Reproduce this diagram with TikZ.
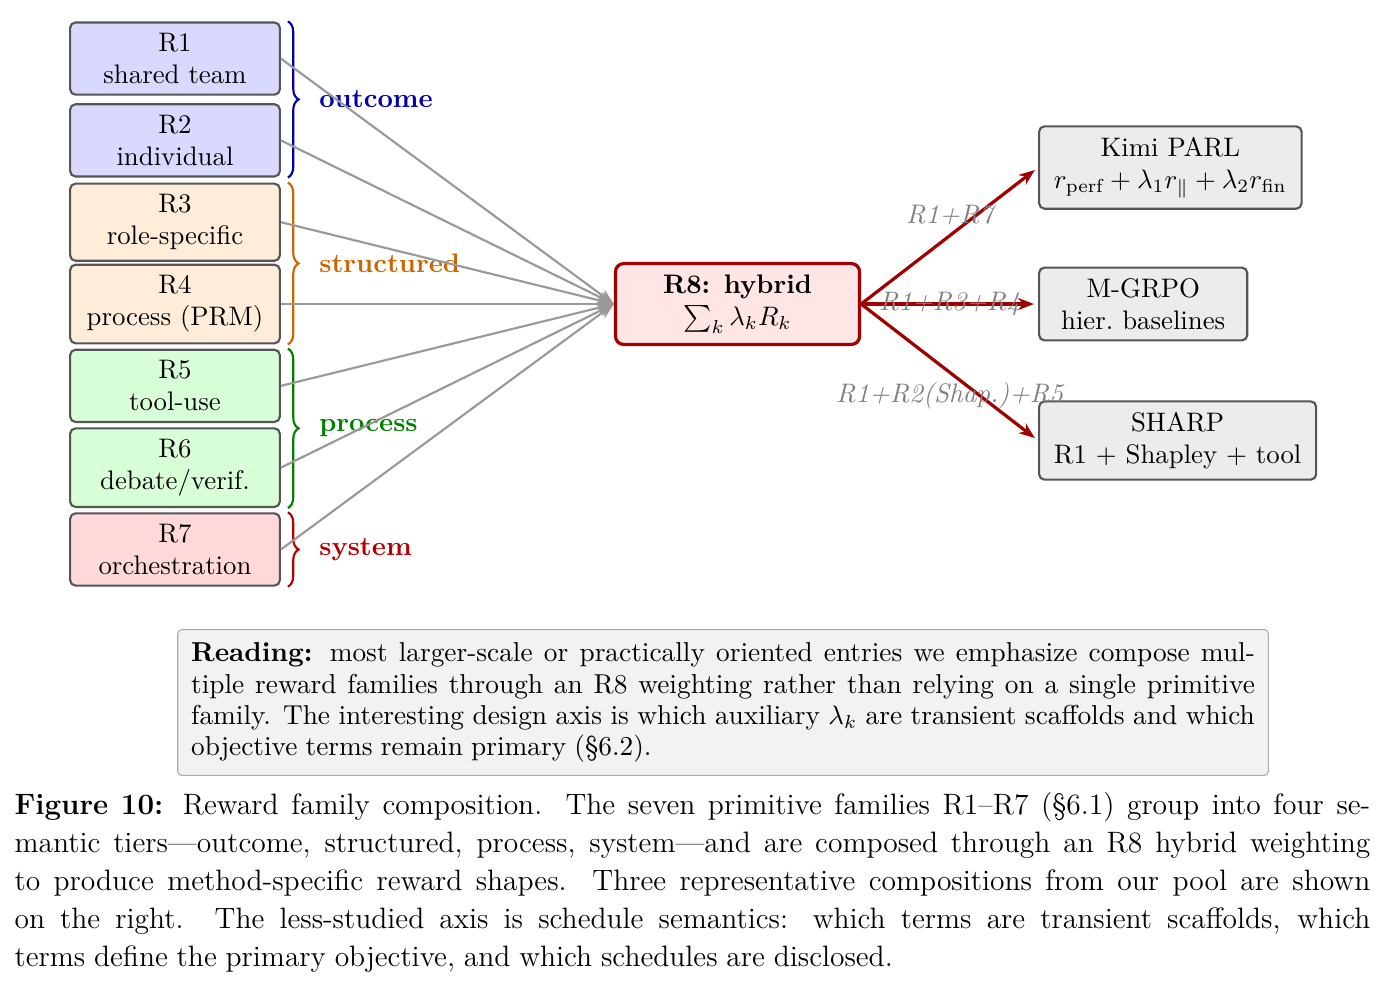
\documentclass[tikz,border=0pt]{standalone}
\usepackage{amsmath,amssymb}
\usepackage{tikz}
\usetikzlibrary{arrows.meta,positioning,calc,decorations.pathreplacing}
\usepackage{xcolor}
\definecolor{outblue}{HTML}{0000AA}
\definecolor{strorange}{HTML}{CC6600}
\definecolor{procgreen}{HTML}{008000}
\definecolor{sysred}{HTML}{B40000}
\definecolor{hybridred}{HTML}{A00000}
\definecolor{boxgray}{HTML}{555555}
\newcommand{\tightsp}{\spaceskip=.3em plus .2em minus .12em\relax}

\begin{document}
\begin{tikzpicture}[
    fam/.style={draw=boxgray, thick, rounded corners=2pt, minimum width=2.75cm,
                inner ysep=4pt, align=center, fill=#1},
    hub/.style={draw=hybridred, very thick, rounded corners=3pt, fill=red!10,
                minimum width=3.2cm, minimum height=1.06cm, align=center},
    method/.style={draw=boxgray, thick, rounded corners=2pt, fill=gray!15,
                   inner xsep=5.5pt, inner ysep=4pt, align=center, anchor=west},
    tier/.style={decorate, decoration={brace, amplitude=4pt}, thick, #1},
    tierlbl/.style={font=\bfseries, text=#1, right=8pt},
    feed/.style={-{Stealth[length=6pt]}, thick, gray!80},
    comp/.style={-{Stealth[length=6pt]}, very thick, hybridred, shorten >=1.5pt},
    edgelbl/.style={font=\itshape, text=gray},
    para/.style 2 args={align=justify, font=\fontsize{#1}{#2}\selectfont}
  ]
    \useasboundingbox (0,0) rectangle (18.15,12.944);

    % --- Left: primitive families ---
    \foreach \i/\txt/\col in {1/shared team/blue!15, 2/individual/blue!15,
                              3/role-specific/orange!15, 4/process (PRM)/orange!15,
                              5/tool-use/green!15, 6/debate\slash verif./green!15,
                              7/orchestration/red!15} {
      \node[fam=\col] (r\i) at (2.295, {12.176-(\i-1)*1.073}) {R\i\\\txt};
    }

    % --- Braces for the four tiers ---
    \draw[tier=outblue] ([xshift=2.6pt]r1.north east) -- ([xshift=2.6pt]r2.south east)
      node[midway, tierlbl=outblue] {outcome};
    \draw[tier=strorange] ([xshift=2.6pt]r3.north east) -- ([xshift=2.6pt]r4.south east)
      node[midway, tierlbl=strorange] {structured};
    \draw[tier=procgreen] ([xshift=2.6pt]r5.north east) -- ([xshift=2.6pt]r6.south east)
      node[midway, tierlbl=procgreen] {process};
    \draw[tier=sysred] ([xshift=2.6pt]r7.north east) -- ([xshift=2.6pt]r7.south east)
      node[midway, tierlbl=sysred] {system};

    % --- Middle: R8 hybrid ---
    \node[hub] (r8) at (9.672, 8.957) {\textbf{R8: hybrid}\\$\sum_k \lambda_k R_k$};
    \foreach \i in {1,...,7} {
      \draw[feed] (r\i.east) -- (r8.west);
    }

    % --- Right: compositions ---
    \node[method] (kimi) at (13.613, 10.747)
      {Kimi PARL\\$r_{\text{perf}} + \lambda_1 r_{\parallel} + \lambda_2 r_{\text{fin}}$};
    \node[method, minimum width=2.73cm] (mgrpo) at (13.613, 8.957) {M-GRPO\\hier.\ baselines};
    \node[method] (sharp) at (13.613, 7.167) {SHARP\\R1 + Shapley + tool};

    \draw[comp] (r8.east) -- node[midway, above, edgelbl] {R1+R7} (kimi.west);
    \draw[comp] (r8.east) -- node[midway, edgelbl] {R1+R3+R4} (mgrpo.west);
    \draw[comp] (r8.east) -- node[midway, below, edgelbl] {R1+R2(Shap.)+R5} (sharp.west);

    % --- Reading note ---
    \node[draw=gray!65, fill=gray!10, rounded corners=1.5pt, inner xsep=5pt, inner ysep=5pt,
          text width=13.95cm, para={10.2}{11.6}] (note) at (9.482, 3.731)
      {\tightsp\textbf{Reading:} most larger-scale or practically oriented entries we emphasize
       compose mul-\linebreak tiple reward families through an R8 weighting rather than relying
       on a single primitive\linebreak family. The interesting design axis is which auxiliary
       $\lambda_k$ are transient scaffolds and which\linebreak objective terms remain primary (\S6.2).};

    % --- Caption ---
    \node[anchor=north west, inner sep=0pt, text width=17.78cm, para={11}{14.2}]
      (caption) at (0.184, 2.560)
      {\tightsp\textbf{Figure 10:} Reward family composition. The seven primitive families R1--R7
       (\S6.1) group into four se-\linebreak mantic tiers---outcome, structured, process,
       system---and are composed through an R8 hybrid weighting\linebreak to produce
       method-specific reward shapes. Three representative compositions from our pool are
       shown\linebreak on the right. The less-studied axis is schedule semantics: which terms
       are transient scaffolds, which\linebreak terms define the primary objective, and which
       schedules are disclosed.};
  \end{tikzpicture}
\end{document}
